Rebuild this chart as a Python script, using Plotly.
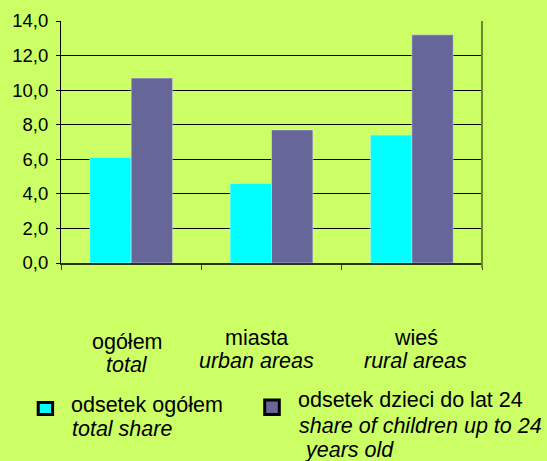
import plotly.graph_objects as go

# categories (Polish / English)
categories = ['ogółem', 'miasta', 'wieś']
categories_en = ['total', 'urban areas', 'rural areas']

# series
series_names = ['odsetek ogółem', 'odsetek dzieci do lat 24']
series_names_en = ['total share', 'share of children up to 24', 'years old']
total_share = [6.1, 4.6, 7.4]
children_share = [10.7, 7.7, 13.2]

BG = '#CCFF66'
CYAN = '#00FFFF'
PURPLE = '#666699'
FONT = 'Liberation Sans, Arial, sans-serif'
TXT = 21.5

# plot area in pixels (547x461 page)
L, R, T, B = 61, 482, 20.7, 263.3
W, H = 547, 461


def px_x(x):
    return (x - L) / (R - L)


def px_y(y):
    return (B - y) / (B - T)


fig = go.Figure()

fig.add_trace(go.Bar(
    x=categories, y=total_share, name=series_names[0],
    marker_color=CYAN, showlegend=False
))
fig.add_trace(go.Bar(
    x=categories, y=children_share, name=series_names[1],
    marker_color=PURPLE, showlegend=False
))

annotations = []

# category labels below the axis
cat_shift = [-4, -15, 4]
cat_y1 = [342, 338, 338]
cat_y2 = [366, 362, 362]
for i, (pl, en) in enumerate(zip(categories, categories_en)):
    annotations.append(dict(
        x=pl, y=px_y(cat_y1[i]), xref='x', yref='paper', text=pl,
        showarrow=False, xshift=cat_shift[i], yanchor='middle',
        font=dict(size=TXT, color='black', family=FONT)
    ))
    annotations.append(dict(
        x=pl, y=px_y(cat_y2[i]), xref='x', yref='paper', text='<i>' + en + '</i>',
        showarrow=False, xshift=cat_shift[i], yanchor='middle',
        font=dict(size=TXT, color='black', family=FONT)
    ))

# legend (drawn by hand so the layout matches)
legend_text = [
    (68.5, 405.5, series_names[0], False),
    (69.5, 430, series_names_en[0], True),
    (296, 401, series_names[1], False),
    (297, 426.5, series_names_en[1], True),
    (302, 450.5, series_names_en[2], True),
]
for x, y, txt, it in legend_text:
    annotations.append(dict(
        x=px_x(x), y=px_y(y), xref='paper', yref='paper',
        text='<i>' + txt + '</i>' if it else txt,
        showarrow=False, xanchor='left', yanchor='middle',
        font=dict(size=TXT, color='black', family=FONT)
    ))

shapes = [
    # legend swatches
    dict(type='rect', xref='paper', yref='paper',
         x0=px_x(38.2), x1=px_x(52.6), y0=px_y(403.2), y1=px_y(415.2),
         fillcolor=CYAN, line=dict(color='black', width=3)),
    dict(type='rect', xref='paper', yref='paper',
         x0=px_x(264.7), x1=px_x(279.3), y0=px_y(400.7), y1=px_y(415.3),
         fillcolor=PURPLE, line=dict(color='black', width=3)),
    # right border of the plot area
    dict(type='line', xref='paper', yref='paper',
         x0=1, x1=1, y0=px_y(268), y1=1,
         line=dict(color='#6B8A2E', width=2)),
]

fig.update_layout(
    width=W, height=H,
    margin=dict(l=L, r=W - R, t=T, b=H - B, pad=0),
    paper_bgcolor=BG, plot_bgcolor=BG,
    barmode='group', bargap=0.41, bargroupgap=0,
    separators=', ',
    font=dict(family=FONT, color='black'),
    annotations=annotations,
    shapes=shapes,
    showlegend=False,
    xaxis=dict(
        showticklabels=False, showgrid=False, automargin=False,
        showline=True, linecolor='#2B3514', linewidth=2,
        ticks='outside', tickson='boundaries', ticklen=5,
        tickcolor='#3D4A1A', tickwidth=1,
    ),
    yaxis=dict(
        range=[0, 14], dtick=2, tickformat='.1f', automargin=False,
        showgrid=True, gridcolor='black', gridwidth=1,
        zeroline=False,
        showline=True, linecolor='black', linewidth=1,
        ticks='outside', ticklen=4, tickcolor='black',
        ticklabelstandoff=4,
        tickfont=dict(size=18.5, color='black', family=FONT),
    ),
)

# drop the page's default body margin so the figure sits at the top-left corner
fig.write_html('out.html', config={'displayModeBar': False},
               post_script="document.body.style.margin='0';"
                           "document.body.style.background='#CCFF66';")
